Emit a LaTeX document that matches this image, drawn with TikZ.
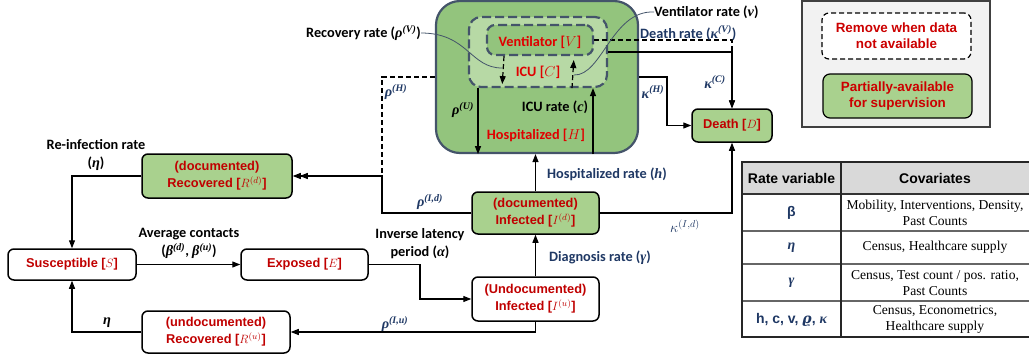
\documentclass[tikz,border=0pt]{standalone}
\usepackage{fontspec}
\usepackage{amsmath}
\newfontfamily\calfont{Carlito}
\newfontfamily\arialfont{Liberation Sans}
\newfontfamily\timesfont{Liberation Serif}
\newfontfamily\gkfont{Liberation Serif}
\newfontfamily\dvfont{DejaVu Serif}
\newcommand\grk[1]{{\gkfont\bfseries\itshape #1}}
\newcommand\sups[1]{\textsuperscript{\gkfont\bfseries\itshape #1}}
\usetikzlibrary{arrows.meta,calc}
\definecolor{nred}{HTML}{C00000}
\definecolor{hred}{HTML}{E00000}
\definecolor{lred}{HTML}{CC0000}
\definecolor{navy}{HTML}{1F3864}
\definecolor{ngreen}{HTML}{A9D18E}
\definecolor{hgreen}{HTML}{93C47D}
\definecolor{igreen}{HTML}{B7D9A5}
\definecolor{hborder}{HTML}{44546A}
\definecolor{lgray}{HTML}{F2F2F2}
\definecolor{lgborder}{HTML}{404040}
\definecolor{tgray}{HTML}{D9D9D9}
\begin{document}
\begin{tikzpicture}[x=1pt,y=-1pt,
  nodebox/.style={draw=black, line width=1.5pt, rounded corners=6pt, align=center, inner sep=0pt, text=nred, font=\arialfont\bfseries\fontsize{12.8}{17}\selectfont},
  greenbox/.style={nodebox, fill=ngreen},
  lbl/.style={font=\calfont\bfseries\fontsize{14.3}{18}\selectfont, inner sep=0pt, align=center},
  blbl/.style={lbl, text=navy},
  htxt/.style={lbl, text=hred},
  conn/.style={line width=1.2pt, -{Triangle[length=8pt,width=6pt]}},
  dconn/.style={conn, dash pattern=on 5pt off 3pt},
  leadline/.style={draw=hborder, line width=0.8pt},
  hbox/.style={draw=hborder, line width=2.2pt, inner sep=0pt},
  thead/.style={font=\arialfont\bfseries\fontsize{14}{16}\selectfont, inner sep=0pt},
  tvar/.style={font=\arialfont\bfseries\fontsize{14}{16}\selectfont, text=navy, inner sep=0pt},
  tcov/.style={font=\timesfont\fontsize{13.6}{16.5}\selectfont, align=center, inner sep=0pt},
  legtext/.style={line width=1.2pt, rounded corners=7pt, align=center, inner sep=0pt, text=lred, font=\arialfont\bfseries\fontsize{13.4}{16}\selectfont}
]
\useasboundingbox (0,0) rectangle (1029,360);

% hospital compartment
\node[hbox, fill=hgreen, rounded corners=24pt, minimum width=202pt, minimum height=152pt] (Hosp) at (537,77) {};
\node[hbox, dash pattern=on 9pt off 4pt, fill=igreen, rounded corners=12pt, minimum width=138pt, minimum height=70pt] (ICU) at (538,52) {};
\node[hbox, dash pattern=on 9pt off 4pt, fill=hgreen, rounded corners=8pt, minimum width=106pt, minimum height=30pt] (V) at (540,40) {};
\node[htxt] (tV) at (540,42) {Ventilator [$V$]};
\node[htxt] (tC) at (538,72) {ICU [$C$]};
\node[lbl] (lc) at (555,107) {ICU rate (\grk{c})};
\node[htxt] (tH) at (536,135) {Hospitalized [$H$]};

% compartments
\node[nodebox, minimum width=128pt, minimum height=31pt] (S) at (72,264.5) {Susceptible [$S$]};
\node[nodebox, minimum width=127pt, minimum height=31pt] (E) at (304.5,264.5) {Exposed [$E$]};
\node[greenbox, minimum width=150pt, minimum height=44pt] (Rd) at (217,176) {(documented)\\Recovered [$R^{(d)}$]};
\node[nodebox, minimum width=148pt, minimum height=42pt] (Ru) at (216,332) {(undocumented)\\Recovered [$R^{(u)}$]};
\node[greenbox, minimum width=127pt, minimum height=42pt] (Id) at (535.5,213) {(documented)\\Infected [$I^{(d)}$]};
\node[nodebox, fill=white, minimum width=127pt, minimum height=44pt] (Iu) at (535.5,299) {(Undocumented)\\Infected [$I^{(u)}$]};
\node[greenbox, minimum width=80pt, minimum height=33pt] (D) at (732,125.5) {Death [$D$]};

% connectors inside hospital
\draw[dconn, shorten >=4pt] ([xshift=-36pt]V.south) -- ([xshift=-36pt]ICU.south);
\draw[dconn, shorten >=4pt] ([xshift=34pt]ICU.south) -- ([xshift=34pt]V.south);
\draw[conn] ([xshift=-60pt]ICU.south) -- ([xshift=-60pt]ICU.south |- Hosp.south);
\draw[conn] ([xshift=55pt]ICU.south |- Hosp.south) -- ([xshift=55pt]ICU.south);

% main flow
\draw[conn] (Id.north) -- (Id.north |- Hosp.south);
\draw[conn] (Iu.north) -- (Id.south);
\draw[conn] (Iu.south) |- (Ru.east);
\draw[conn] (Ru.west) -| (S.south);
\draw[conn] (S.east) -- (E.west);
\coordinate (ei) at (420,264.5);
\draw[conn] (E.east) -- (ei) |- (Iu.west);
\coordinate (idr) at (382,195);
\draw[conn] (Id.west) -| (idr) |- (Rd.east);
\coordinate (rh) at (382,77);
\draw[dconn] (Hosp.west) -- (rh) |- ([xshift=7pt]Rd.east);
\draw[conn] (Rd.west) -| (S.north);
\coordinate (kh) at (667,100);
\draw[conn] (Hosp.east) -| (kh) |- (D.west);
\draw[conn] (ICU.east) -| (D.north);
\draw[dconn] (V.east) -| (D.north);
\draw[conn] (Id.east) -| (D.south);

% labels
\node[lbl, anchor=west] (lrv) at (306,33) {Recovery rate (\grk{ρ}\sups{(V)})};
\draw[leadline] (lrv.east) .. controls (468,33) and (470,68) .. (502,68);
\node[lbl, anchor=west] (lvr) at (654,12) {Ventilator rate (\grk{v})};
\draw[leadline] (lvr.west) .. controls (612,10) and (602,76) .. (574,75);
\node[blbl, anchor=west] (ldr) at (640,33) {Death rate (\grk{κ}\sups{(V)})};
\node[blbl] (lkc) at (715,82) {\grk{κ}\sups{(C)}};
\node[blbl] (lkh) at (653,92) {\grk{κ}\sups{(H)}};
\node[blbl] (lrh) at (396,92) {\grk{ρ}\sups{(H)}};
\node[lbl] (lru) at (463,110) {\grk{ρ}\sups{(U)}};
\node[blbl] (lhr) at (607,174) {Hospitalized rate (\grk{h})};
\node[blbl] (ldg) at (600,258) {Diagnosis rate (\grk{γ})};
\node[blbl] (lrid) at (430,202) {\grk{ρ}\sups{(I,d)}};
\node[lbl, text=navy, font=\fontsize{14}{16}\selectfont] (lkid) at (685,226) {$\kappa^{(I,d)}$};
\node[lbl] (lil) at (420,243.5) {Inverse latency\\period (\grk{α})};
\node[lbl] (lac) at (189,243.5) {Average contacts\\(\grk{β}\sups{(d)}, \grk{β}\sups{(u)})};
\node[blbl] (lriu) at (395,324) {\grk{ρ}\sups{(I,u)}};
\node[lbl] (leta) at (107,323) {\grk{η}};
\node[lbl] (lre) at (96,155) {Re-infection rate\\(\grk{η})};

% legend
\node[draw=lgborder, line width=1.2pt, fill=lgray, minimum width=188pt, minimum height=126pt, inner sep=0pt] (Leg) at (896,64) {};
\node[legtext, draw=black, dash pattern=on 5pt off 3pt, fill=white, minimum width=149pt, minimum height=46pt] (L1) at (896.5,36) {Remove when data\\not available};
\node[legtext, draw=black, fill=ngreen, minimum width=149pt, minimum height=44pt] (L2) at (897.5,96) {Partially-available\\for supervision};

% table
\fill[tgray] (742,162) rectangle (1029,194);
\draw[line width=1.5pt, black!60] (742,231) -- (1029,231) (742,264) -- (1029,264) (742,301) -- (1029,301);
\draw[line width=1.2pt, black!80] (742,194) -- (1029,194);
\draw[line width=1.3pt, black!85] (1029,162) -- (742,162) -- (742,337) -- (1029,337) (841,162) -- (841,337);
\node[thead] (h1) at (791.5,178) {Rate variable};
\node[thead] (h2) at (935,178) {Covariates};
\node[tvar] (v1) at (791.5,213) {β};
\node[tvar] (v2) at (791.5,248) {\grk{η}};
\node[tvar] (v3) at (791.5,283) {\grk{γ}};
\node[tvar] (v4) at (791.5,320) {h, c, v, {\dvfont\bfseries\itshape ϱ}, \grk{κ}};
\node[tcov] (c1) at (935,213) {Mobility, Interventions, Density,\\Past Counts};
\node[tcov] (c2) at (935,247.5) {Census, Healthcare supply};
\node[tcov] (c3) at (935,283) {Census, Test count / pos. ratio,\\Past Counts};
\node[tcov] (c4) at (935,319.5) {Census, Econometrics,\\Healthcare supply};
\end{tikzpicture}
\end{document}
